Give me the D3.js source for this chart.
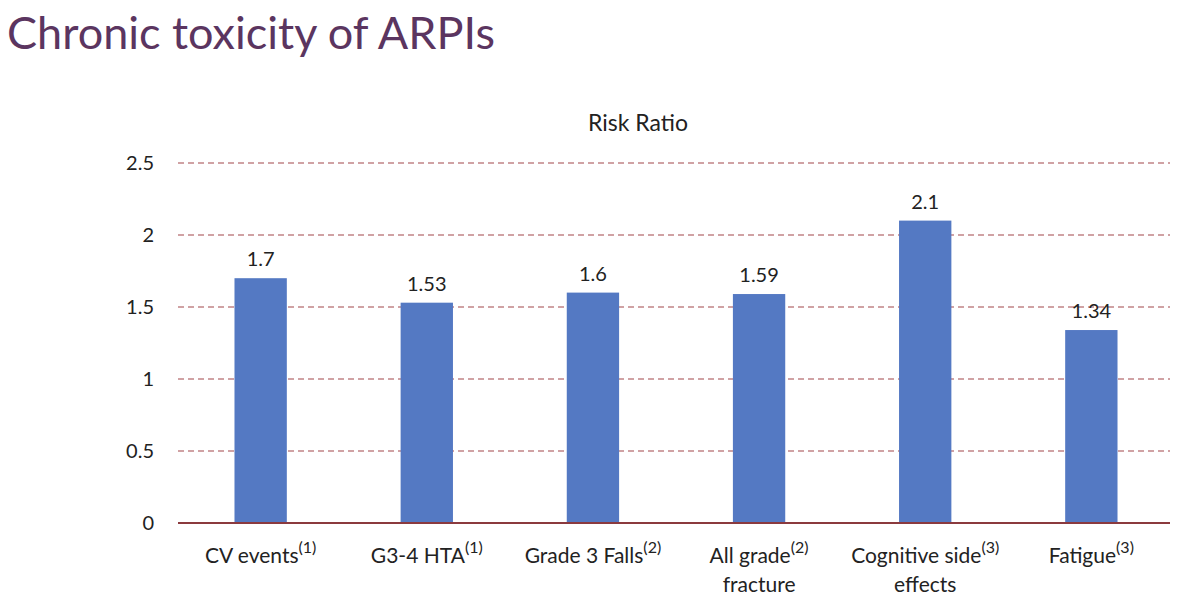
<!DOCTYPE html>
<html>
<head>
<meta charset="utf-8">
<script src="https://cdn.jsdelivr.net/npm/d3@7"></script>
<style>
  body { margin: 0; background: #fff; }
  svg { display: block; font-family: Lato, 'Open Sans', sans-serif; }
</style>
</head>
<body>
<div id="chart"></div>
<script>
// Chart data
const categories = ['CV events', 'G3-4 HTA', 'Grade 3 Falls', 'All grade', 'Cognitive side', 'Fatigue'];
const secondLines = ['', '', '', 'fracture', 'effects', ''];
const refs = ['(1)', '(1)', '(2)', '(2)', '(3)', '(3)'];
const values = [1.7, 1.53, 1.6, 1.59, 2.1, 1.34];
const valueLabels = ['1.7', '1.53', '1.6', '1.59', '2.1', '1.34'];
const yTicks = [0, 0.5, 1, 1.5, 2, 2.5];
const yTickLabels = ['0', '0.5', '1', '1.5', '2', '2.5'];

const width = 1200;
const height = 603;
const margin = { left: 178, right: 26, top: 163, bottom: 80 };

const svg = d3.select('#chart')
    .append('svg')
    .attr('width', width)
    .attr('height', height);

// Slide title
svg.append('text')
    .attr('x', 7)
    .attr('y', 49)
    .attr('fill', '#5b3560')
    .style('font-size', '45px')
    .text('Chronic toxicity of ARPIs');

// Chart title
svg.append('text')
    .attr('x', 638)
    .attr('y', 131)
    .attr('text-anchor', 'middle')
    .attr('fill', '#222')
    .style('font-size', '23px')
    .text('Risk Ratio');

const x = d3.scaleBand()
    .domain(categories)
    .range([margin.left, width - margin.right])
    .paddingInner(0.685)
    .paddingOuter(0.34);

const y = d3.scaleLinear()
    .domain([0, 2.5])
    .range([height - margin.bottom, margin.top]);

// Gridlines
svg.append('g')
    .selectAll('line')
    .data(yTicks.filter(d => d > 0))
    .join('line')
    .attr('x1', margin.left)
    .attr('x2', width - margin.right - 4)
    .attr('y1', d => y(d))
    .attr('y2', d => y(d))
    .attr('stroke', '#a2474a')
    .attr('stroke-width', 1.2)
    .attr('stroke-dasharray', '6,4');

// Y tick labels
svg.append('g')
    .selectAll('text')
    .data(yTicks)
    .join('text')
    .attr('x', 154)
    .attr('y', d => y(d))
    .attr('dy', '0.35em')
    .attr('text-anchor', 'end')
    .attr('fill', '#222')
    .style('font-size', '20px')
    .text((d, i) => yTickLabels[i]);

// Bars
svg.append('g')
    .selectAll('rect')
    .data(values)
    .join('rect')
    .attr('x', (d, i) => x(categories[i]))
    .attr('width', x.bandwidth())
    .attr('y', d => y(d))
    .attr('height', d => y(0) - y(d))
    .attr('fill', '#5479c3');

// Baseline
svg.append('line')
    .attr('x1', margin.left)
    .attr('x2', width - margin.right - 4)
    .attr('y1', y(0))
    .attr('y2', y(0))
    .attr('stroke', '#8b3a3e')
    .attr('stroke-width', 2);

// Value labels
svg.append('g')
    .selectAll('text')
    .data(values)
    .join('text')
    .attr('x', (d, i) => x(categories[i]) + x.bandwidth() / 2)
    .attr('y', d => y(d) - 12)
    .attr('text-anchor', 'middle')
    .attr('fill', '#222')
    .style('font-size', '20px')
    .text((d, i) => valueLabels[i]);

// Category labels
const labels = svg.append('g')
    .selectAll('text')
    .data(categories)
    .join('text')
    .attr('x', d => x(d) + x.bandwidth() / 2)
    .attr('y', 563)
    .attr('text-anchor', 'middle')
    .attr('fill', '#222')
    .style('font-size', '21px');

labels.append('tspan')
    .text(d => d);

labels.append('tspan')
    .attr('dy', -10)
    .style('font-size', '16px')
    .text((d, i) => refs[i]);

labels.filter((d, i) => secondLines[i] !== '')
    .append('tspan')
    .attr('x', d => x(d) + x.bandwidth() / 2)
    .attr('dy', 39)
    .text(d => secondLines[categories.indexOf(d)]);
</script>
</body>
</html>
